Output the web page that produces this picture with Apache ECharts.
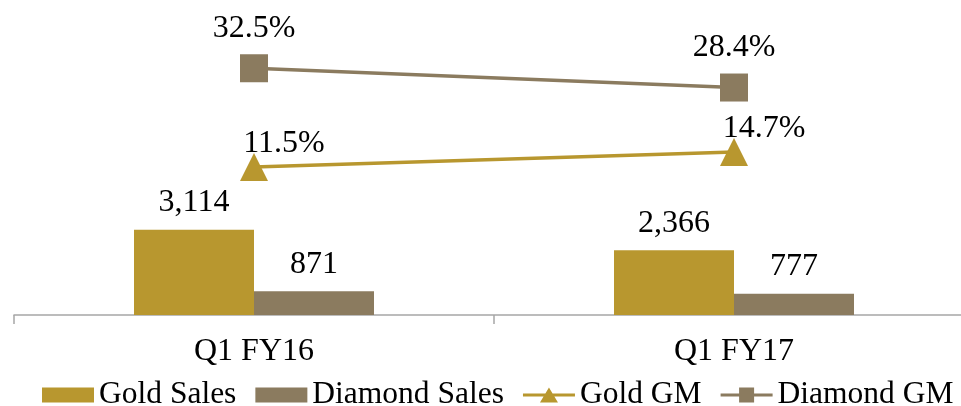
<!DOCTYPE html>
<html>
<head>
<meta charset="utf-8">
<script src="https://cdn.jsdelivr.net/npm/echarts@6/dist/echarts.min.js"></script>
<style>
  html, body { margin: 0; padding: 0; background: #fff; }
  #chart { width: 961px; height: 406px; }
</style>
</head>
<body>
<div id="chart"></div>
<script>
var categories = ["Q1 FY16", "Q1 FY17"];
var goldSales = [3114, 2366];
var diamondSales = [871, 777];
var goldGM = [11.5, 14.7];
var diamondGM = [32.5, 28.4];

var GOLD = "#B8972F";
var DIAMOND = "#8B7B5F";
var FONT = "'Liberation Serif', 'Times New Roman', serif";

// legend icons: line with marker in the middle
var ICON_TRI = "path://M0,6L52,6L52,9L0,9Z M17,15L26,0L35,15Z";
var ICON_SQ = "path://M0,6L52,6L52,9L0,9Z M18.5,0L33.5,0L33.5,15L18.5,15Z";

var chart = echarts.init(document.getElementById("chart"));

var option = {
  animation: false,
  textStyle: { fontFamily: FONT },
  grid: { left: 14, top: 33, width: 960, height: 282, outerBoundsMode: "none", containLabel: false },
  legend: {
    left: 37,
    top: 374,
    width: 940,
    itemWidth: 52,
    itemHeight: 15,
    itemGap: 19,
    textStyle: { fontFamily: FONT, fontSize: 31.5, color: "#000" },
    data: [
      { name: "Gold Sales", icon: "rect" },
      { name: "Diamond Sales", icon: "rect" },
      { name: "Gold GM", icon: ICON_TRI },
      { name: "Diamond GM", icon: ICON_SQ }
    ]
  },
  xAxis: {
    type: "category",
    data: categories,
    axisLine: { lineStyle: { color: "#A6A6A6", width: 1.5 } },
    axisTick: { show: true, length: 9, lineStyle: { color: "#A6A6A6", width: 1.5 } },
    axisLabel: { fontFamily: FONT, fontSize: 32, color: "#000", margin: 21 }
  },
  yAxis: [
    { type: "value", min: 0, max: 10300, show: false, splitLine: { show: false } },
    { type: "value", min: -20, max: 40, show: false, splitLine: { show: false } }
  ],
  series: [
    {
      name: "Gold Sales",
      type: "bar",
      data: goldSales,
      barWidth: 120,
      barGap: "0%",
      itemStyle: { color: GOLD },
      label: {
        show: true, position: "top", distance: 11,
        fontFamily: FONT, fontSize: 32, color: "#000",
        formatter: function (p) { return p.value.toLocaleString("en-US"); }
      }
    },
    {
      name: "Diamond Sales",
      type: "bar",
      data: diamondSales,
      barWidth: 120,
      barGap: "0%",
      itemStyle: { color: DIAMOND },
      label: {
        show: true, position: "top", distance: 11,
        fontFamily: FONT, fontSize: 32, color: "#000"
      }
    },
    {
      name: "Gold GM",
      type: "line",
      yAxisIndex: 1,
      data: goldGM,
      symbol: "triangle",
      symbolSize: 28,
      lineStyle: { color: GOLD, width: 3.5 },
      itemStyle: { color: GOLD },
      label: {
        show: true, position: "top", distance: 0, offset: [30, 7],
        fontFamily: FONT, fontSize: 32, color: "#000",
        formatter: function (p) { return p.value.toFixed(1) + "%"; }
      }
    },
    {
      name: "Diamond GM",
      type: "line",
      yAxisIndex: 1,
      data: diamondGM,
      symbol: "rect",
      symbolSize: 28,
      lineStyle: { color: DIAMOND, width: 3.5 },
      itemStyle: { color: DIAMOND },
      label: {
        show: true, position: "top", distance: 10,
        fontFamily: FONT, fontSize: 32, color: "#000",
        formatter: function (p) { return p.value.toFixed(1) + "%"; }
      }
    }
  ]
};

chart.setOption(option);
window.addEventListener("resize", function () {
  chart.resize();
});
</script>
</body>
</html>
